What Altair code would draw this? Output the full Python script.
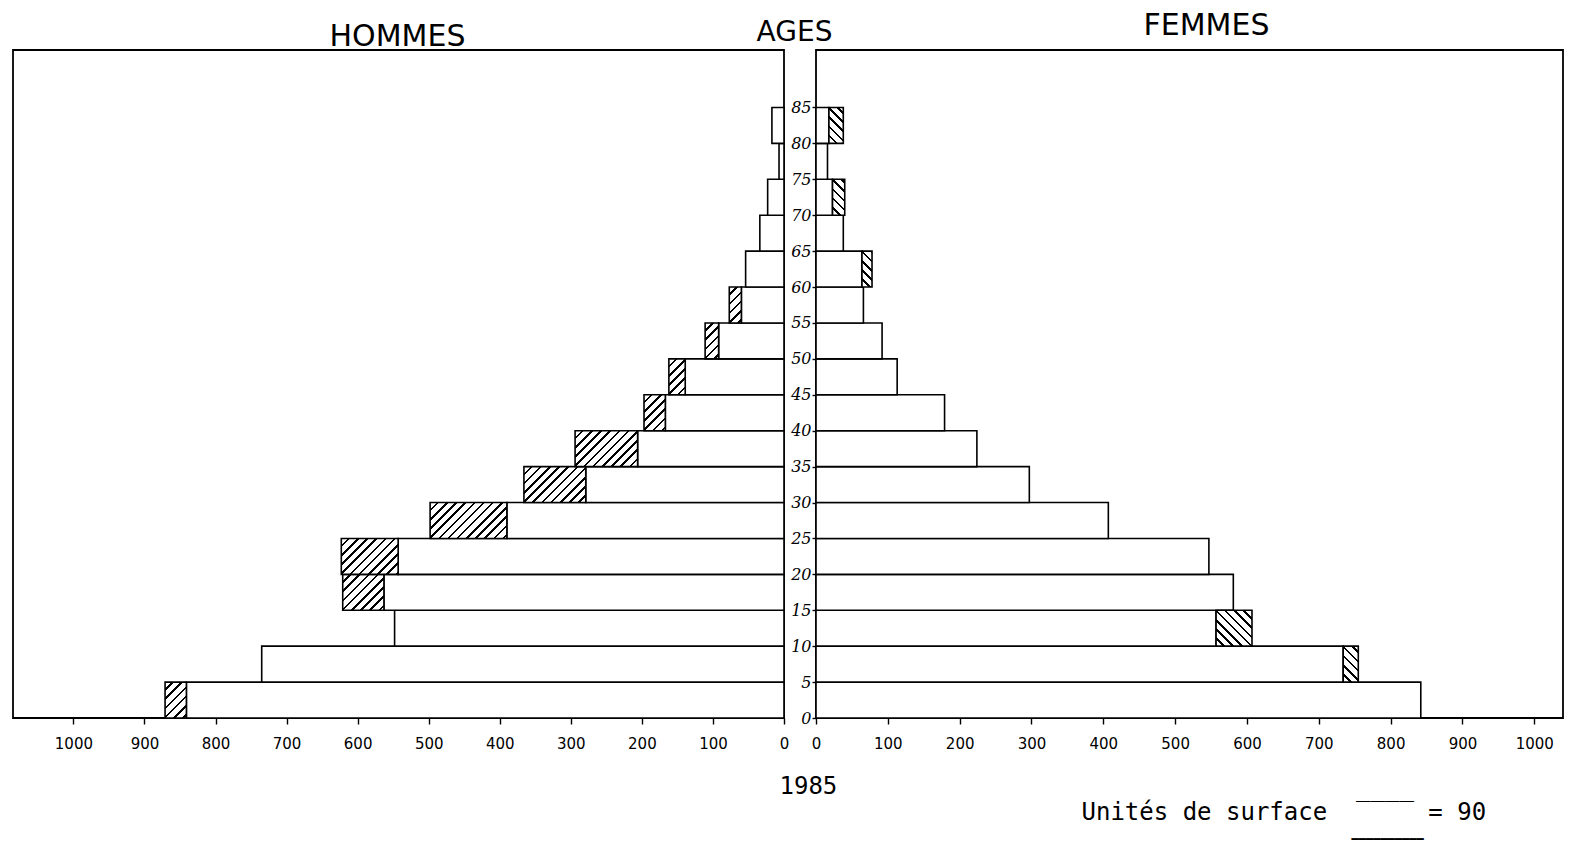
import altair as alt
import pandas as pd

# ---- data (population by 5-year age groups, 1985) ----
age_start = [0, 5, 10, 15, 20, 25, 30, 35, 40, 45, 50, 55, 60, 65, 70, 75, 80]
age_end = [5, 10, 15, 20, 25, 30, 35, 40, 45, 50, 55, 60, 65, 70, 75, 80, 85]
men_base = [841, 735, 548, 563, 543, 390, 279, 206, 167, 139, 92, 60, 54, 34, 23, 7, 17]
men_total = [871, 735, 548, 621, 623, 498, 366, 294, 197, 162, 111, 77, 54, 34, 23, 7, 17]
women_base = [842, 734, 557, 581, 547, 407, 297, 224, 179, 113, 92, 66, 64, 38, 23, 16, 18]
women_total = [842, 755, 607, 581, 547, 407, 297, 224, 179, 113, 92, 66, 78, 38, 40, 16, 38]
x_ticks = [0, 100, 200, 300, 400, 500, 600, 700, 800, 900, 1000]
age_ticks = [0, 5, 10, 15, 20, 25, 30, 35, 40, 45, 50, 55, 60, 65, 70, 75, 80, 85]

df = pd.DataFrame({
    "age": age_start, "age_end": age_end,
    "men_base": men_base, "men_total": men_total,
    "women_base": women_base, "women_total": women_total,
})

# ---- layout ----
W_M, W_F, H = 771, 747, 668
DOM_M, DOM_F, DOM_Y = 1085, 1040, 93
PXM, PXF, PXY = W_M / DOM_M, W_F / DOM_F, H / DOM_Y
SW = 1.6

# hatch pattern built as a striped linear gradient
N, P, FR = 24, 6.5, 0.72
stops = []
for k in range(N):
    a, b, e = k / N, (k + FR) / N, (k + 1) / N
    stops += [f"{{offset:{a:.5f},color:'white'}}", f"{{offset:{b:.5f},color:'white'}}",
              f"{{offset:{b:.5f},color:'black'}}", f"{{offset:{e:.5f},color:'black'}}"]
STOPS = "[" + ",".join(stops) + "]"

TITLE_FONT = "DejaVu Sans"
LABEL_FONT = "DejaVu Sans"
MONO = "DejaVu Sans Mono"
NB = "\u00a0"
OVL = "\u203e"
LOW = "\u2581"

y_scale = alt.Scale(domain=[0, DOM_Y], nice=False, zero=False)
xs_m = alt.Scale(domain=[0, DOM_M], reverse=True, nice=False)
xs_f = alt.Scale(domain=[0, DOM_F], nice=False)


def head_axis(text, orient, tx, ty, size=30, font=TITLE_FONT, align="center"):
    return alt.Axis(orient=orient, labels=False, ticks=False, domain=False, grid=False,
                    title=text, titleFont=font, titleFontSize=size,
                    titleFontWeight="normal", titleColor="black", titleAngle=0,
                    titleX=tx, titleY=ty, titleAlign=align, titleBaseline="alphabetic")


common_x = dict(values=x_ticks, format="d", domain=False, grid=False, tickSize=6,
                tickColor="black", tickWidth=1.4, labelFont=LABEL_FONT, labelFontSize=15,
                labelColor="black", labelPadding=12, labelFlush=False, labelOverlap=False,
                titleFont=MONO, titleFontSize=24, titleFontWeight="normal", titleColor="black",
                titleBaseline="alphabetic", titleAngle=0, titleAlign="left")

axis_m = alt.Axis(title="1985", titleX=766, titleY=75, **common_x)
axis_f = alt.Axis(title="Unités de surface" + NB * 2 + OVL * 4 + NB + "= 90",
                  titleX=265, titleY=101, **common_x)

# ---- men ----
men_white = alt.Chart(df).mark_rect(fill="white", stroke="black", strokeWidth=SW).encode(
    x=alt.X("men_base:Q", scale=xs_m, axis=axis_m),
    x2=alt.X2("x0:Q"),
    y=alt.Y("age:Q", scale=y_scale, axis=head_axis("HOMMES", "left", 384, -5)),
    y2="age_end:Q",
).transform_calculate(x0="0")

men_hatch = alt.Chart(df).transform_filter("datum.men_total > datum.men_base").transform_calculate(
    hw=f"(datum.men_total - datum.men_base) * {PXM}", hh=f"5 * {PXY}"
).transform_calculate(
    hc=f"{N} * SQRT2 * {P} / (datum.hw / datum.hh + datum.hh / datum.hw)"
).transform_calculate(
    hfill=f"{{gradient:'linear', x1:0, y1:0, x2: datum.hc / datum.hh, y2: datum.hc / datum.hw, stops:{STOPS}}}"
).mark_rect(stroke="black", strokeWidth=SW).encode(
    x=alt.X("men_base:Q", scale=xs_m, axis=axis_m),
    x2="men_total:Q",
    y=alt.Y("age:Q", scale=y_scale, axis=head_axis("AGES", "right", 10, -10, 28)),
    y2="age_end:Q",
    fill=alt.Fill("hfill:N", scale=None),
)

men = alt.layer(men_white, men_hatch).resolve_axis(y="independent").properties(width=W_M, height=H)

# ---- women ----
y_axis_f = alt.Axis(values=age_ticks, orient="left", domain=False, grid=False, tickSize=4,
                    tickColor="black", tickWidth=1.4, labelFont="DejaVu Serif",
                    labelFontStyle="italic", labelFontSize=16, labelColor="black", labelPadding=1,
                    labelFlush=False, labelOverlap=False,
                    title="FEMMES", titleFont=TITLE_FONT, titleFontSize=30, titleFontWeight="normal",
                    titleColor="black", titleAngle=0, titleX=390, titleY=-16,
                    titleAlign="center", titleBaseline="alphabetic")

women_white = alt.Chart(df).mark_rect(fill="white", stroke="black", strokeWidth=SW).encode(
    x=alt.X("x0:Q", scale=xs_f, axis=axis_f),
    x2="women_base:Q",
    y=alt.Y("age:Q", scale=y_scale, axis=y_axis_f), y2="age_end:Q",
).transform_calculate(x0="0")

women_hatch = alt.Chart(df).transform_filter("datum.women_total > datum.women_base").transform_calculate(
    hw=f"(datum.women_total - datum.women_base) * {PXF}", hh=f"5 * {PXY}"
).transform_calculate(
    hc=f"{N} * SQRT2 * {P} / (datum.hw / datum.hh + datum.hh / datum.hw)"
).transform_calculate(
    hfill=f"{{gradient:'linear', x1:0, y1:1, x2: datum.hc / datum.hh, y2: 1 - datum.hc / datum.hw, stops:{STOPS}}}"
).mark_rect(stroke="black", strokeWidth=SW).encode(
    x=alt.X("women_base:Q", scale=xs_f, axis=axis_f),
    x2="women_total:Q",
    y=alt.Y("age:Q", scale=y_scale,
            axis=head_axis(LOW * 10, "right", -212, 786, 12, MONO, "left")),
    y2="age_end:Q",
    fill=alt.Fill("hfill:N", scale=None),
)

women = alt.layer(women_white, women_hatch).resolve_axis(y="independent").properties(width=W_F, height=H)

chart = alt.hconcat(men, women, spacing=32, bounds="flush").properties(
    padding={"left": 4, "top": 1, "right": 4, "bottom": 2},
    background="white",
).configure_view(stroke="black", strokeWidth=1.8, fill="white")

chart.save("out.html", embed_options={"renderer": "svg", "actions": False})
